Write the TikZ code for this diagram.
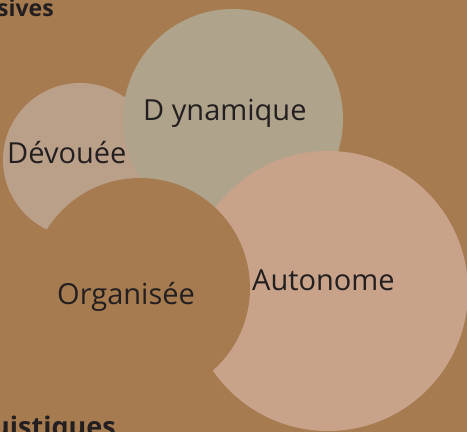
\documentclass[tikz,border=0pt]{standalone}
\usepackage{fontspec}
\setmainfont{Open Sans}
\usepackage{tikz}

\definecolor{fond}{HTML}{A67B50}
\definecolor{devouee}{HTML}{BBA089}
\definecolor{dynamique}{HTML}{B0A38B}
\definecolor{autonome}{HTML}{C8A38A}
\definecolor{encre}{HTML}{231F20}

\tikzset{
  mot/.style={anchor=base west, inner sep=0pt, text=encre, font=\fontsize{29}{30}\selectfont},
  titre/.style={anchor=base west, inner sep=0pt, text=encre, font=\bfseries\fontsize{23}{24}\selectfont}
}

\begin{document}
\begin{tikzpicture}[x=1pt,y=1pt]
    \useasboundingbox (0,0) rectangle (467,432);
    \clip (0,0) rectangle (467,432);
    \fill[fond] (0,0) rectangle (467,432);
    % bulles
    \fill[devouee] (80,272) circle (77);
    \fill[dynamique] (233,313) circle (110);
    \fill[autonome] (328,141) circle (140);
    \fill[fond] (140,144) circle (110);
    % textes
    \node[mot] (devouee) at (7,268) {Dévouée};
    \node[mot] (dynamique) at (143,311) {D ynamique};
    \node[mot] (organisee) at (57,127) {Organisée};
    \node[mot] (autonome) at (252,141) {Autonome};
    \node[titre] (haut) at (-3,415) {sives};
    \node[titre, font=\bfseries\fontsize{27}{28}\selectfont] (bas) at (-8,-5) {uistiques};
\end{tikzpicture}
\end{document}
